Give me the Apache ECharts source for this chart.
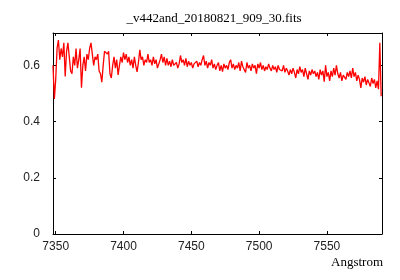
<!DOCTYPE html>
<html>
<head>
<meta charset="utf-8">
<script src="https://cdn.jsdelivr.net/npm/echarts@6/dist/echarts.min.js"></script>
<style>
  html, body { margin: 0; padding: 0; background: #fff; }
  #chart { width: 400px; height: 280px; }
</style>
</head>
<body>
<div id="chart"></div>
<script>
// wavelength grid of the spectrum (Angstrom), one sample per step
const startWave = 7348;
const stepWave = 1;

// flux, one per sample
const flux = [
  0.60, 0.48, 0.55, 0.66, 0.69, 0.62, 0.66, 0.63, 0.68, 0.56,
  0.65, 0.68, 0.63, 0.58, 0.57, 0.63, 0.60, 0.66, 0.59, 0.62,
  0.66, 0.52, 0.60, 0.63, 0.58, 0.64, 0.62, 0.66, 0.68, 0.64,
  0.60, 0.63, 0.62, 0.64, 0.58, 0.57, 0.54, 0.60, 0.65, 0.655,
  0.64, 0.65, 0.57, 0.555, 0.60, 0.63, 0.59, 0.62, 0.566, 0.60,
  0.63, 0.61, 0.645, 0.62, 0.64, 0.61, 0.63, 0.60, 0.62, 0.59,
  0.63, 0.60, 0.577, 0.61, 0.655, 0.62, 0.63, 0.60, 0.62, 0.61,
  0.64, 0.61, 0.62, 0.60, 0.63, 0.605, 0.62, 0.59, 0.583, 0.62,
  0.64, 0.61, 0.63, 0.60, 0.625, 0.60, 0.615, 0.595, 0.62, 0.60,
  0.595, 0.61, 0.59, 0.605, 0.635, 0.61, 0.62, 0.60, 0.625, 0.595,
  0.615, 0.60, 0.61, 0.59, 0.605, 0.60, 0.615, 0.595, 0.61, 0.60,
  0.62, 0.635, 0.60, 0.615, 0.59, 0.61, 0.60, 0.62, 0.59, 0.605,
  0.585, 0.60, 0.61, 0.58, 0.60, 0.578, 0.605, 0.59, 0.60, 0.585,
  0.61, 0.62, 0.59, 0.605, 0.585, 0.60, 0.59, 0.61, 0.58, 0.615,
  0.595, 0.60, 0.575, 0.61, 0.59, 0.60, 0.58, 0.605, 0.59, 0.60,
  0.57, 0.605, 0.59, 0.61, 0.585, 0.60, 0.58, 0.595, 0.585, 0.605,
  0.59, 0.58, 0.60, 0.585, 0.595, 0.575, 0.60, 0.585, 0.59, 0.58,
  0.60, 0.575, 0.59, 0.58, 0.565, 0.585, 0.57, 0.59, 0.575, 0.555,
  0.585, 0.57, 0.595, 0.575, 0.585, 0.56, 0.59, 0.57, 0.55, 0.58,
  0.565, 0.585, 0.57, 0.58, 0.56, 0.575, 0.55, 0.585, 0.565, 0.58,
  0.542, 0.60, 0.56, 0.575, 0.545, 0.58, 0.56, 0.59, 0.565, 0.60,
  0.57, 0.555, 0.575, 0.545, 0.565, 0.57, 0.55, 0.575, 0.56, 0.58,
  0.555, 0.59, 0.56, 0.575, 0.545, 0.565, 0.55, 0.52, 0.555, 0.54,
  0.56, 0.53, 0.55, 0.545, 0.525, 0.555, 0.535, 0.55, 0.52, 0.545,
  0.515, 0.68, 0.49
];

const xTicks = [7350, 7400, 7450, 7500, 7550];
const yTicks = [0, 0.2, 0.4, 0.6];

const points = flux.map((v, i) => [startWave + i * stepWave, v]);

const chart = echarts.init(document.getElementById('chart'));

const tickFont = { color: '#222', fontFamily: 'Liberation Sans', fontSize: 12 };

// gnuplot style box: ticks on all four sides, pointing inward
function xAxisCfg(pos, showLabel) {
  return {
    type: 'value',
    position: pos,
    min: 7348,
    max: 7590.6,
    axisLine: { show: true, onZero: false, lineStyle: { color: '#000', width: 1 } },
    axisTick: { show: true, inside: true, length: 3, customValues: xTicks, lineStyle: { color: '#000' } },
    axisLabel: Object.assign({
      show: showLabel,
      margin: 7,
      customValues: xTicks,
      formatter: v => String(v)
    }, tickFont),
    splitLine: { show: false }
  };
}

function yAxisCfg(pos, showLabel) {
  return {
    type: 'value',
    position: pos,
    min: 0,
    max: 0.715,
    axisLine: { show: true, onZero: false, lineStyle: { color: '#000', width: 1 } },
    axisTick: { show: true, inside: true, length: 3, customValues: yTicks, lineStyle: { color: '#000' } },
    axisLabel: Object.assign({
      show: showLabel,
      margin: 13,
      customValues: yTicks,
      formatter: v => String(v)
    }, tickFont),
    splitLine: { show: false }
  };
}

chart.setOption({
  animation: false,
  backgroundColor: '#fff',
  grid: { left: 53, right: 18, top: 33, bottom: 46, containLabel: false },
  xAxis: [xAxisCfg('bottom', true), xAxisCfg('top', false)],
  yAxis: [yAxisCfg('left', true), yAxisCfg('right', false)],
  graphic: [
    {
      type: 'text',
      x: 214,
      y: 19,
      style: {
        text: '_v442and_20180821_909_30.fits',
        font: '13px "Liberation Serif"',
        fill: '#000',
        textAlign: 'center',
        textVerticalAlign: 'middle'
      }
    },
    {
      type: 'text',
      x: 383,
      y: 263,
      style: {
        text: 'Angstrom',
        font: '13px "Liberation Serif"',
        fill: '#000',
        textAlign: 'right',
        textVerticalAlign: 'middle'
      }
    }
  ],
  series: [
    {
      type: 'line',
      data: points,
      showSymbol: false,
      clip: true,
      lineStyle: { color: '#ff0000', width: 1.3 },
      itemStyle: { color: '#ff0000' }
    }
  ]
});
</script>
</body>
</html>
